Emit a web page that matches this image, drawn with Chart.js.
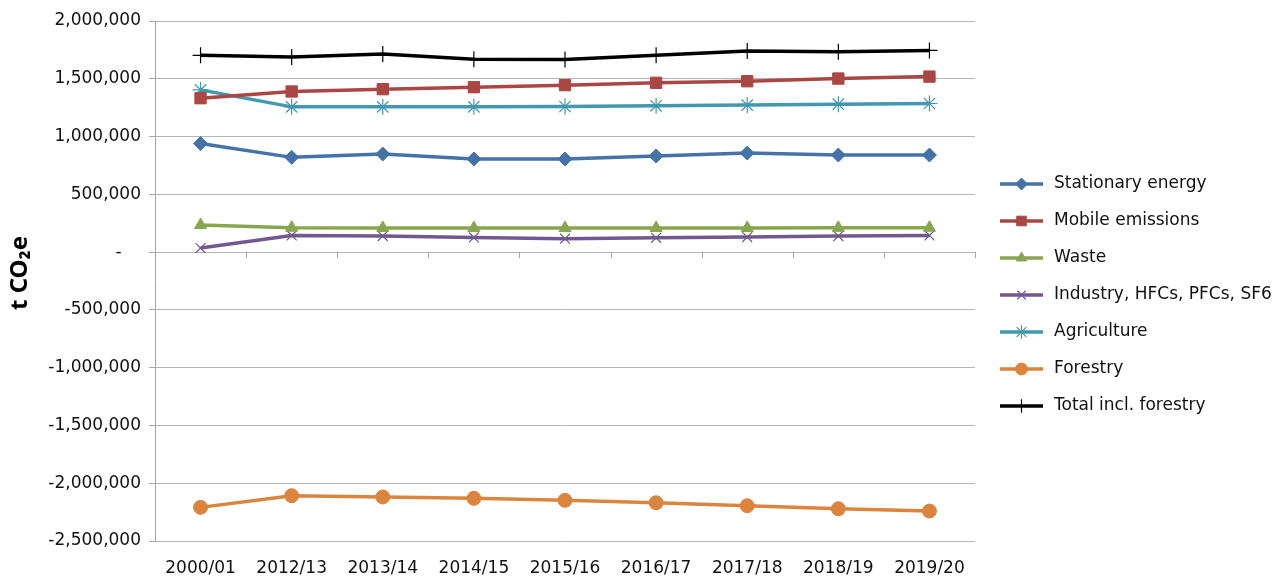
<!DOCTYPE html>
<html lang="en">
<head>
    <meta charset="UTF-8">
    <title>Emissions by sector</title>
    <script src="https://cdn.jsdelivr.net/npm/chart.js"></script>
    <style>
        html, body { margin: 0; padding: 0; background: #fff; }
        #wrap { width: 1287px; height: 577px; position: relative; }
    </style>
</head>
<body>
    <div id="wrap"><canvas id="emissionsChart"></canvas></div>

    <script>
        // Datos
        const years = ['2000/01', '2012/13', '2013/14', '2014/15', '2015/16', '2016/17', '2017/18', '2018/19', '2019/20'];
        const stationaryEnergy = [940000, 820000, 849000, 806000, 806000, 832000, 857000, 840000, 840000];
        const mobileEmissions = [1332000, 1390000, 1410000, 1427000, 1445000, 1465000, 1479000, 1502000, 1519000];
        const waste = [234000, 211000, 209000, 208000, 208000, 209000, 209000, 210000, 211000];
        const industry = [35000, 144000, 139000, 127000, 116000, 124000, 130000, 139000, 144000];
        const agriculture = [1404000, 1257000, 1257000, 1257000, 1260000, 1266000, 1272000, 1280000, 1286000];
        const forestry = [-2209000, -2108000, -2119000, -2131000, -2148000, -2169000, -2195000, -2221000, -2241000];
        const totalInclForestry = [1703000, 1689000, 1715000, 1670000, 1667000, 1703000, 1740000, 1733000, 1745000];
        const yTicks = [2000000, 1500000, 1000000, 500000, 0, -500000, -1000000, -1500000, -2000000, -2500000];

        const fontFamily = '"DejaVu Sans", "Noto Sans", sans-serif';

        function serie(label, data, color, style, radius, bw) {
            return {
                label,
                data,
                borderColor: color,
                backgroundColor: color,
                borderWidth: 3.5,
                pointStyle: style,
                pointRadius: radius,
                pointHoverRadius: radius,
                pointBorderWidth: bw,
                pointBorderColor: color,
                pointBackgroundColor: color,
                tension: 0,
                fill: false
            };
        }

        // Ticks del eje de categorías sobre la línea cero
        const zeroTicks = {
            id: 'zeroTicks',
            afterDatasetsDraw(chart) {
                const { ctx, chartArea } = chart;
                const y0 = chart.scales.y.getPixelForValue(0);
                const step = (chartArea.right - chartArea.left) / years.length;
                ctx.save();
                ctx.strokeStyle = '#a6a6a6';
                ctx.lineWidth = 1;
                ctx.beginPath();
                for (let i = 0; i <= years.length; i++) {
                    const x = Math.round(chartArea.left + i * step) + 0.5;
                    ctx.moveTo(x, y0);
                    ctx.lineTo(x, y0 + 6);
                }
                ctx.stroke();
                ctx.restore();
            }
        };

        // Leyenda dibujada a mano (línea + marcador)
        const sideLegend = {
            id: 'sideLegend',
            afterDraw(chart) {
                const ctx = chart.ctx;
                const x0 = 1000, x1 = 1043, tx = 1054, top = 184, gap = 37;
                ctx.save();
                chart.data.datasets.forEach((ds, i) => {
                    const y = top + i * gap;
                    ctx.strokeStyle = ds.borderColor;
                    ctx.lineWidth = ds.borderWidth;
                    ctx.beginPath();
                    ctx.moveTo(x0, y);
                    ctx.lineTo(x1, y);
                    ctx.stroke();
                    ctx.fillStyle = ds.pointBackgroundColor;
                    ctx.strokeStyle = ds.pointBorderColor;
                    ctx.lineWidth = ds.pointBorderWidth;
                    Chart.helpers.drawPoint(ctx, {
                        pointStyle: ds.pointStyle,
                        radius: ds.pointRadius * 0.85,
                        borderWidth: ds.pointBorderWidth,
                        rotation: 0
                    }, (x0 + x1) / 2, y);
                    ctx.fillStyle = '#111';
                    ctx.font = '17px ' + fontFamily;
                    ctx.textAlign = 'left';
                    ctx.textBaseline = 'middle';
                    ctx.fillText(ds.label, tx, y);
                });
                ctx.restore();
            }
        };

        new Chart(document.getElementById('emissionsChart'), {
            type: 'line',
            data: {
                labels: years,
                datasets: [
                    serie('Stationary energy', stationaryEnergy, '#4572A7', 'rectRot', 7, 1),
                    serie('Mobile emissions', mobileEmissions, '#AA4643', 'rect', 8, 1),
                    serie('Waste', waste, '#89A54E', 'triangle', 7, 1),
                    serie('Industry, HFCs, PFCs, SF6', industry, '#71588F', 'crossRot', 7, 1.2),
                    serie('Agriculture', agriculture, '#4198AF', 'star', 8, 1.2),
                    serie('Forestry', forestry, '#DB843D', 'circle', 7, 1),
                    serie('Total incl. forestry', totalInclForestry, '#000000', 'cross', 8, 1.2)
                ]
            },
            options: {
                responsive: true,
                maintainAspectRatio: false,
                animation: false,
                layout: { padding: { top: 21, right: 312, bottom: 0, left: 0 } },
                plugins: {
                    legend: { display: false },
                    tooltip: { enabled: false }
                },
                scales: {
                    x: {
                        offset: true,
                        grid: { display: false, offset: true },
                        border: { display: false },
                        ticks: {
                            color: '#111',
                            font: { family: fontFamily, size: 17 },
                            padding: 9,
                            maxRotation: 0,
                            autoSkip: false
                        },
                        afterFit(scale) { scale.height = 36; }
                    },
                    y: {
                        min: -2500000,
                        max: 2000000,
                        afterBuildTicks(scale) { scale.ticks = yTicks.map(v => ({ value: v })); },
                        grid: { color: '#b5b5b5', lineWidth: 1, tickLength: 6, tickColor: '#a6a6a6' },
                        border: { color: '#a6a6a6', width: 1 },
                        ticks: {
                            color: '#111',
                            font: { family: fontFamily, size: 17 },
                            padding: 8,
                            callback(v) {
                                return v === 0 ? '-\u2007\u2002' : v.toLocaleString('en-US');
                            }
                        },
                        title: {
                            display: true,
                            text: '\u2002\u2009t CO₂e',
                            color: '#000',
                            font: { family: '"Noto Sans", sans-serif', size: 24, weight: 'bold' },
                            padding: { top: 6, bottom: 0 }
                        },
                        afterFit(scale) { scale.width = 155; }
                    }
                }
            },
            plugins: [zeroTicks, sideLegend]
        });
    </script>
</body>
</html>
